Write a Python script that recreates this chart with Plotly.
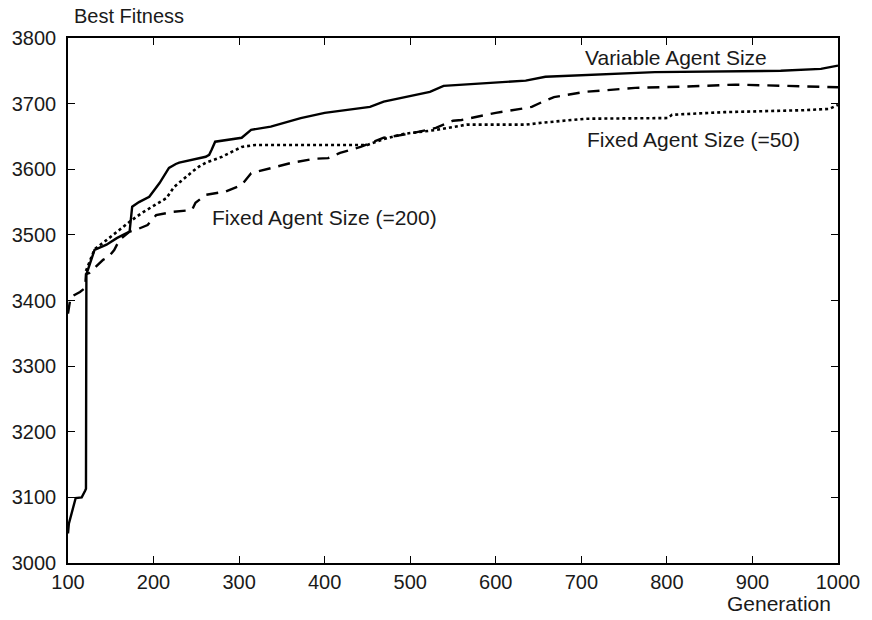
import plotly.graph_objects as go

# Variable Agent Size (solid)
var_gen = [100, 101, 109, 116, 120, 121, 121.5, 131, 145, 157, 172, 175, 183, 195, 207, 218, 226, 230, 261, 265, 268, 272, 303, 314, 337, 372, 400, 453, 469, 523, 539, 600, 635, 658, 786, 933, 980, 1000]
var_fit = [3045, 3060, 3099, 3100, 3110, 3113, 3440, 3477, 3485, 3495, 3505, 3543, 3550, 3558, 3579, 3602, 3608, 3610, 3619, 3622, 3630, 3642, 3648, 3660, 3665, 3678, 3686, 3695, 3703, 3718, 3727, 3732, 3735, 3741, 3748, 3750, 3753, 3758]

# Fixed Agent Size (=50) (dotted)
f50_gen = [121, 131, 145, 160, 172, 187, 203, 215, 224, 230, 245, 253, 261, 280, 303, 319, 450, 469, 493, 531, 551, 566, 635, 655, 705, 801, 806, 867, 960, 990, 1000]
f50_fit = [3445, 3478, 3492, 3508, 3520, 3534, 3546, 3556, 3573, 3580, 3596, 3604, 3610, 3619, 3634, 3637, 3637, 3646, 3654, 3660, 3665, 3668, 3668, 3671, 3677, 3678, 3683, 3687, 3690, 3692, 3698]

# Fixed Agent Size (=200) (dashed)
f200_gen = [100, 103, 114, 120, 121, 125, 141, 147, 154, 160, 172, 180, 193, 203, 222, 245, 249, 261, 284, 303, 314, 337, 362, 388, 404, 418, 442, 469, 499, 530, 550, 560, 600, 629, 642, 655, 668, 705, 763, 822, 880, 1000]
f200_fit = [3380, 3405, 3413, 3419, 3440, 3442, 3462, 3466, 3477, 3492, 3505, 3508, 3515, 3530, 3535, 3538, 3549, 3561, 3566, 3576, 3594, 3602, 3610, 3616, 3617, 3625, 3634, 3648, 3654, 3663, 3674, 3675, 3686, 3692, 3695, 3703, 3710, 3718, 3724, 3726, 3729, 3725]

x_ticks = [100, 200, 300, 400, 500, 600, 700, 800, 900, 1000]
y_ticks = [3000, 3100, 3200, 3300, 3400, 3500, 3600, 3700, 3800]

FONT = "Liberation Sans, Arial, Helvetica, sans-serif"
TXT = "#1a1a1a"
FS = 20
FA = 21

fig = go.Figure()
fig.add_trace(go.Scatter(x=f200_gen, y=f200_fit, mode="lines",
                         line=dict(color="black", width=2.4, dash="12px,8px"),
                         name="Fixed Agent Size (=200)"))
fig.add_trace(go.Scatter(x=f50_gen, y=f50_fit, mode="lines",
                         line=dict(color="black", width=2.6, dash="dot"),
                         name="Fixed Agent Size (=50)"))
fig.add_trace(go.Scatter(x=var_gen, y=var_fit, mode="lines",
                         line=dict(color="black", width=2.4),
                         name="Variable Agent Size"))

fig.add_annotation(x=811, y=3771, text="Variable Agent Size", showarrow=False,
                   font=dict(size=FA, color=TXT, family=FONT))
fig.add_annotation(x=831, y=3645, text="Fixed Agent Size (=50)", showarrow=False,
                   font=dict(size=FA, color=TXT, family=FONT))
fig.add_annotation(x=400, y=3527, text="Fixed Agent Size (=200)", showarrow=False,
                   font=dict(size=FA, color=TXT, family=FONT))
fig.add_annotation(xref="paper", yref="paper", x=0.005, y=1.0, yshift=22,
                   xanchor="left", yanchor="middle", text="Best Fitness", showarrow=False,
                   font=dict(size=FS, color=TXT, family=FONT))
fig.add_annotation(xref="paper", yref="paper", x=0.924, y=0, yshift=-40,
                   xanchor="center", yanchor="middle", text="Generation", showarrow=False,
                   font=dict(size=FA, color=TXT, family=FONT))

fig.update_layout(
    width=872, height=620,
    margin=dict(l=68, r=27, t=38, b=57),
    paper_bgcolor="white", plot_bgcolor="white",
    showlegend=False,
    font=dict(family=FONT, size=FS, color=TXT),
)
fig.update_xaxes(range=[100, 1000], tickvals=x_ticks, ticks="inside", ticklen=7,
                 tickcolor="black", showline=True, linecolor="black", linewidth=1.5,
                 mirror="ticks", showgrid=False, zeroline=False,
                 tickfont=dict(size=FS, color=TXT))
fig.update_yaxes(range=[3000, 3800], tickvals=y_ticks, ticks="inside", ticklen=7,
                 tickcolor="black", showline=True, linecolor="black", linewidth=1.5,
                 mirror="ticks", showgrid=False, zeroline=False, ticklabelstandoff=6,
                 tickfont=dict(size=FS, color=TXT))

fig.write_html("out.html")
